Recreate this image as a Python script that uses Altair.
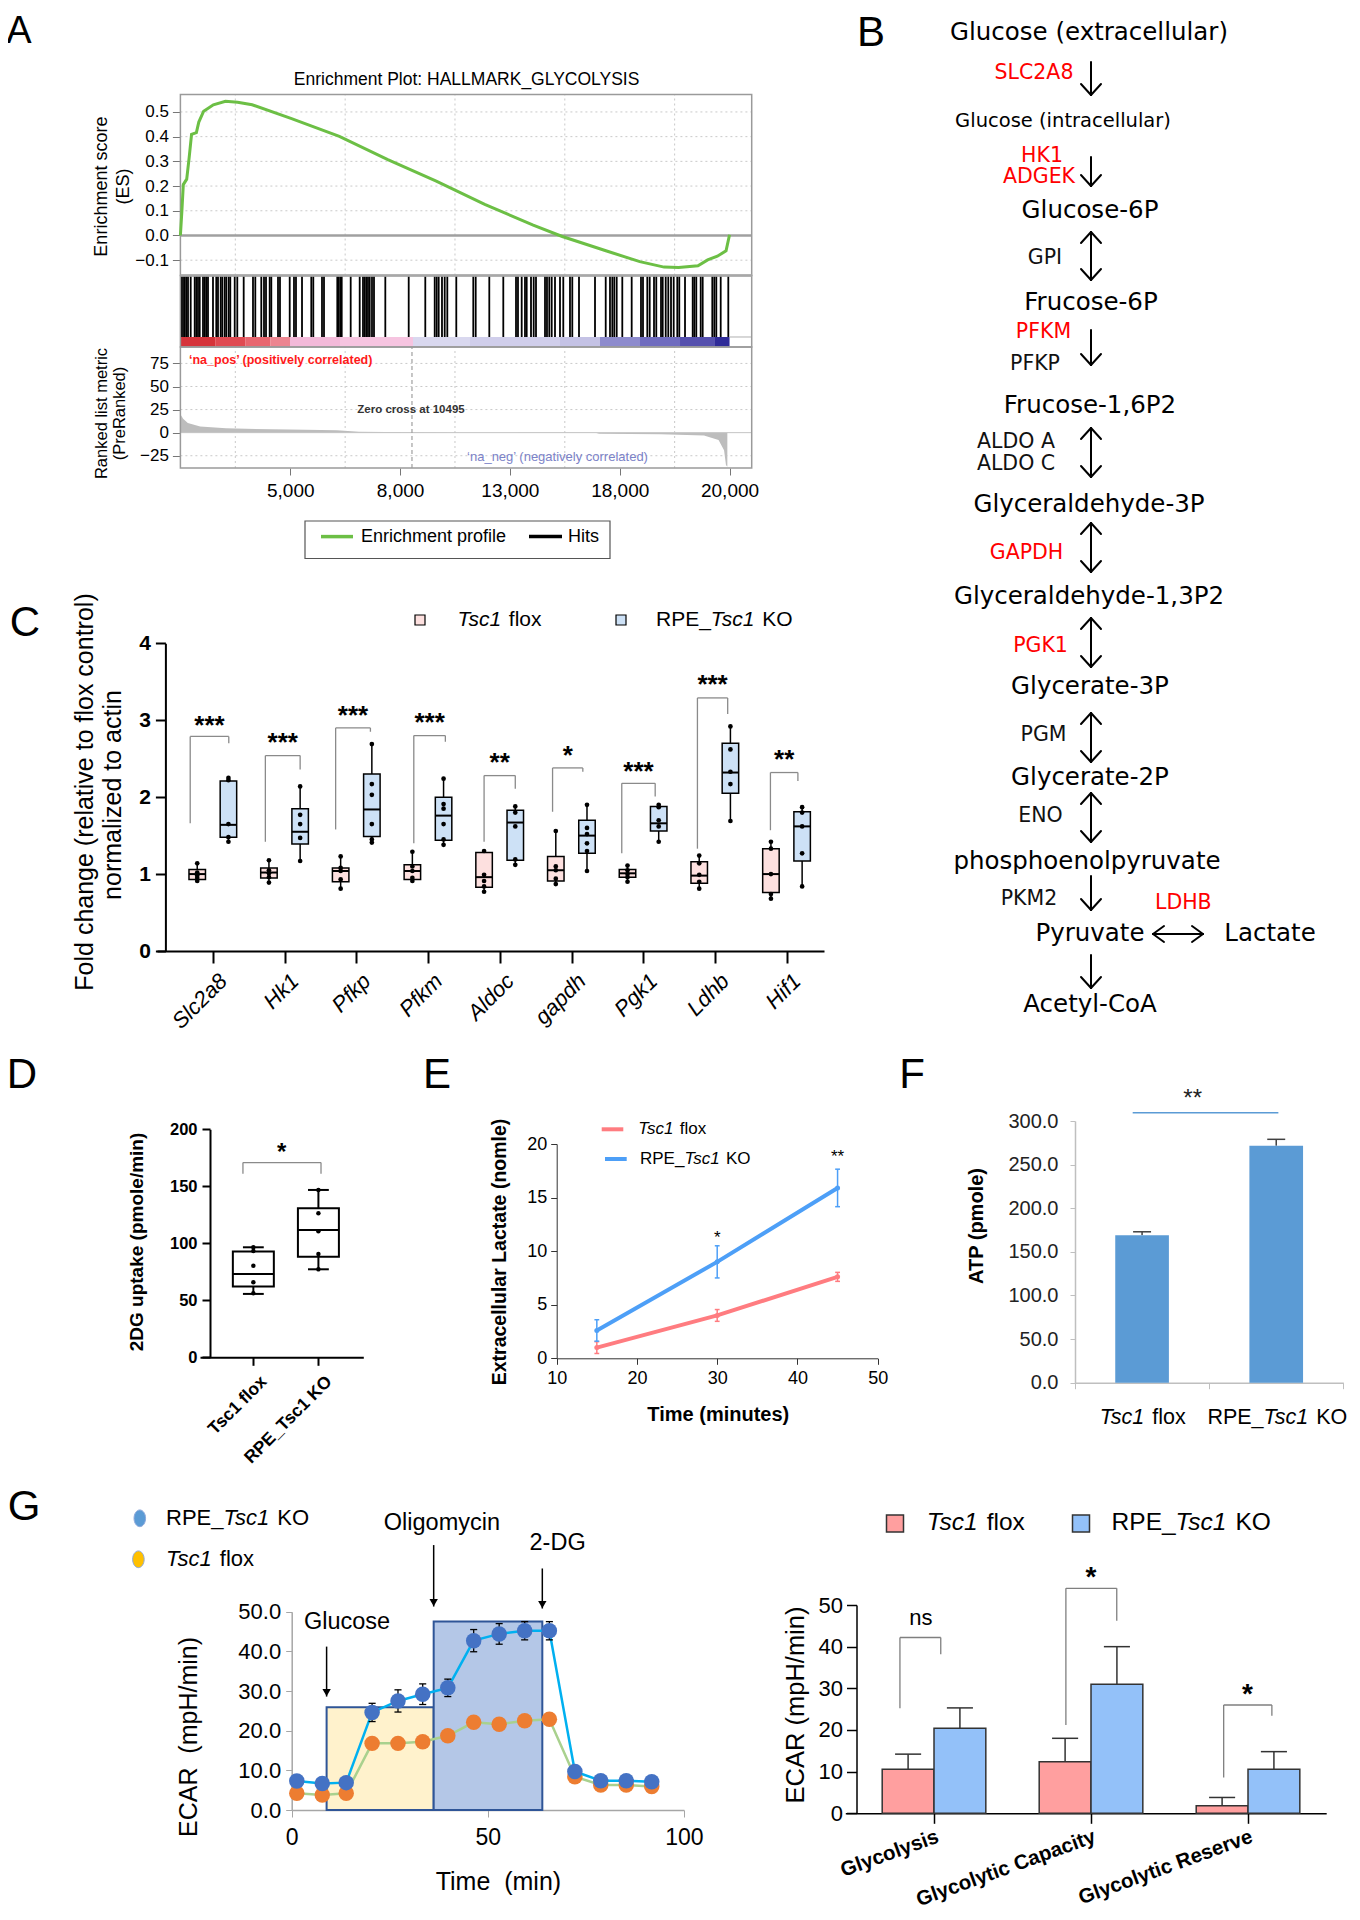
import json
import altair as alt
import pandas as pd

# ============================== DATA ==============================
# ---- A : GSEA enrichment plot ----
es_rank = [0, 53, 106, 230, 318, 406, 582, 670, 847, 1200, 1642, 2083, 2612, 4024, 5789,
           7554, 9319, 11084, 12849, 13908, 15497, 16732, 17615, 18144, 18850, 19203,
           19556, 19873, 20000]
es_score = [0.0, 0.097, 0.206, 0.228, 0.314, 0.409, 0.416, 0.459, 0.503, 0.529, 0.543,
            0.539, 0.529, 0.474, 0.401, 0.307, 0.220, 0.126, 0.042, -0.004, -0.062,
            -0.106, -0.128, -0.130, -0.123, -0.099, -0.084, -0.062, 0.003]
hit_rank = [33, 95, 157, 215, 277, 375, 521, 579, 641, 703, 823, 885, 943, 1005, 1187,
            1307, 1369, 1468, 1526, 1613, 1672, 1759, 1817, 1978, 2072, 2305, 2644, 2728,
            2946, 3045, 3118, 3252, 3311, 3555, 3627, 3981, 4137, 4210, 4429, 4767, 4840,
            5157, 5230, 5714, 5765, 5824, 5875, 6202, 6530, 6650, 6712, 6771, 6832, 6894,
            6978, 7051, 7463, 8315, 8919, 9262, 9335, 9407, 9527, 9626, 9721, 10048,
            10667, 10755, 11250, 11760, 12223, 12295, 12430, 12550, 12612, 12769, 12867,
            12951, 13279, 13351, 13435, 13523, 13643, 13825, 13945, 14189, 14273, 14517,
            15100, 15490, 15646, 15730, 15803, 15890, 16094, 16436, 16775, 16848, 17005,
            17092, 17249, 17332, 17504, 17566, 17675, 17769, 17868, 17966, 18097, 18170,
            18378, 18658, 18717, 18789, 18949, 19022, 19372, 19445, 19518, 19678, 19955]
metric_rank = [0, 100, 270, 720, 1660, 3960, 5700, 6500, 8440, 10495, 13000, 15150, 15250,
               17500, 19070, 19600, 19800, 19870, 19920]
metric_value = [20, 15, 10.5, 6.8, 4.7, 3.3, 2.5, 1.0, 0.4, 0.0, -0.3, -0.5, -1.2, -1.6,
                -3.0, -8.0, -19.0, -35.0, -37.0]
band_edges = [0, 1267, 2360, 3270, 3992, 5813, 8472, 10547, 13825, 15282, 16739, 18196, 19470, 20000]
band_colors = ['#d6333a', '#e04a52', '#e8666f', '#ec8590', '#f3b9d9', '#f6c4e0', '#d9d8ef',
               '#d0ceeb', '#c4c2e5', '#8d8bcd', '#6f6cbf', '#5550ae', '#2f2b98']
a_grid_rank = [2000, 6000, 10000, 14000, 18000]
a_grid_es = [-0.1, 0.1, 0.2, 0.3, 0.4, 0.5]
a_grid_metric = [-25, 25, 50, 75]
a_es_ticks = [-0.1, 0.0, 0.1, 0.2, 0.3, 0.4, 0.5]
a_metric_ticks = [-25, 0, 25, 50, 75]
a_tick_rank = [4000, 8000, 12000, 16000, 20000]
a_tick_label = ['5,000', '8,000', '13,000', '18,000', '20,000']
zero_cross_rank = 8434

# ---- B : glycolysis pathway (layout units of the diagram) ----
b_metabolites = ['Glucose (extracellular)', 'Glucose (intracellular)', 'Glucose-6P', 'Frucose-6P',
                 'Frucose-1,6P2', 'Glyceraldehyde-3P', 'Glyceraldehyde-1,3P2', 'Glycerate-3P',
                 'Glycerate-2P', 'phosphoenolpyruvate', 'Pyruvate', 'Lactate', 'Acetyl-CoA']
b_met_x = [229, 203, 230, 231, 230, 229, 229, 230, 230, 227, 230, 410, 230]
b_met_y = [32.7, 121, 211, 303, 405.5, 505, 597, 686.7, 778, 862, 934, 934, 1005]
b_enzymes = ['SLC2A8', 'HK1', 'ADGEK', 'GPI', 'PFKM', 'PFKP', 'ALDO A', 'ALDO C', 'GAPDH',
             'PGK1', 'PGM', 'ENO', 'PKM2', 'LDHB']
b_enz_x = [174, 182, 179, 185, 183.5, 175, 156, 156, 166.5, 180.5, 183.5, 180.5, 169, 323.3]
b_enz_y = [73, 155.6, 176.6, 258, 331.6, 364, 441.5, 464, 552.6, 645.5, 734.5, 816, 899, 902.5]
b_enz_red = [1, 1, 1, 0, 1, 0, 0, 0, 1, 1, 0, 0, 0, 1]
b_arrow_kind = ['down', 'down', 'both', 'down', 'both', 'both', 'both', 'both', 'both', 'down', 'down']
b_arrow_top = [62, 157, 232, 330, 428, 523, 618, 713, 793, 876, 955]
b_arrow_bottom = [95, 186, 280, 365, 477, 572, 667, 762, 842, 910, 988]

# ---- C : qPCR box plots ----
genes = ['Slc2a8', 'Hk1', 'Pfkp', 'Pfkm', 'Aldoc', 'gapdh', 'Pgk1', 'Ldhb', 'Hif1']
flox_min = [0.91, 0.89, 0.81, 0.91, 0.77, 0.87, 0.90, 0.81, 0.68]
flox_q1 = [0.93, 0.95, 0.90, 0.93, 0.83, 0.91, 0.96, 0.88, 0.76]
flox_med = [1.00, 1.02, 1.04, 1.04, 0.96, 1.05, 1.01, 0.98, 1.00]
flox_q3 = [1.06, 1.08, 1.08, 1.12, 1.28, 1.23, 1.06, 1.16, 1.33]
flox_max = [1.14, 1.18, 1.23, 1.29, 1.30, 1.56, 1.11, 1.24, 1.42]
ko_min = [1.40, 1.17, 1.41, 1.37, 1.12, 1.04, 1.42, 1.69, 0.84]
ko_q1 = [1.48, 1.39, 1.49, 1.44, 1.18, 1.27, 1.56, 2.05, 1.17]
ko_med = [1.64, 1.55, 1.84, 1.76, 1.67, 1.50, 1.66, 2.32, 1.62]
ko_q3 = [2.21, 1.85, 2.30, 2.00, 1.83, 1.70, 1.88, 2.70, 1.81]
ko_max = [2.25, 2.15, 2.70, 2.24, 1.89, 1.91, 1.91, 2.93, 1.89]
flox_points = [[1.14, 1.02, 0.98, 0.95, 0.91], [1.18, 1.05, 1.01, 0.96, 0.89],
               [1.23, 1.08, 1.04, 0.93, 0.81], [1.29, 1.10, 1.04, 0.95, 0.91],
               [1.30, 0.99, 0.91, 0.84, 0.77], [1.56, 1.10, 1.05, 0.94, 0.87],
               [1.11, 1.05, 1.00, 0.96, 0.90], [1.24, 1.14, 0.99, 0.90, 0.81],
               [1.42, 1.33, 1.00, 0.74, 0.68]]
ko_points = [[2.25, 2.22, 1.65, 1.48, 1.42], [2.14, 1.77, 1.65, 1.47, 1.17],
             [2.69, 2.17, 2.03, 1.65, 1.45, 1.41], [2.24, 1.91, 1.85, 1.65, 1.45, 1.38],
             [1.88, 1.80, 1.62, 1.19, 1.12], [1.90, 1.60, 1.52, 1.40, 1.30, 1.04],
             [1.90, 1.87, 1.70, 1.62, 1.42], [2.92, 2.62, 2.33, 2.17, 1.69],
             [1.87, 1.80, 1.62, 1.27, 0.84]]
c_br_left = [-0.318, -0.27, -0.29, -0.2, -0.22, -0.265, -0.3, -0.245, -0.227]
c_br_right = [0.22, 0.215, 0.195, 0.24, 0.215, 0.157, 0.166, 0.177, 0.156]
c_br_left_low = [1.66, 1.42, 1.58, 1.40, 1.42, 1.81, 1.27, 1.33, 1.57]
c_br_top = [2.79, 2.54, 2.90, 2.80, 2.28, 2.38, 2.18, 3.29, 2.32]
c_br_right_low = [2.70, 2.36, 2.85, 2.72, 2.11, 2.33, 2.01, 3.08, 2.21]
c_sig = ['***', '***', '***', '***', '**', '*', '***', '***', '**']
c_sig_y = [3.02, 2.79, 3.15, 3.05, 2.53, 2.63, 2.42, 3.55, 2.57]

# ---- D : 2DG uptake ----
d_groups = ['Tsc1 flox', 'RPE_Tsc1 KO']
d_min = [55.6, 77.2]
d_q1 = [62.0, 88.3]
d_med = [73.0, 111.7]
d_q3 = [92.7, 130.7]
d_max = [96.5, 146.8]
d_points = [[96.5, 93.3, 80.4, 65.8, 56.1], [146.8, 126.3, 110.5, 90.6, 77.2]]

# ---- E : extracellular lactate ----
e_time = [15, 30, 45]
e_flox = [1.0, 4.0, 7.6]
e_flox_err = [0.55, 0.55, 0.42]
e_ko = [2.6, 9.0, 15.9]
e_ko_err = [1.0, 1.5, 1.75]
e_sig = ['*', '**']
e_sig_time = [30, 45]
e_sig_y = [11.7, 19.3]

# ---- F : ATP ----
f_groups = ['Tsc1 flox', 'RPE_Tsc1 KO']
f_value = [168.9, 271.7]
f_err = [4.1, 7.3]

# ---- G : Seahorse ECAR ----
g_time = [1.3, 7.8, 13.9, 20.5, 27.1, 33.4, 39.8, 46.4, 52.9, 59.4, 65.7, 72.2, 78.8, 85.3, 91.8]
g_ko = [7.3, 6.7, 6.9, 24.6, 27.5, 29.2, 30.8, 42.7, 44.4, 45.2, 45.2, 9.7, 7.4, 7.4, 7.1]
g_ko_err = [0.5, 0.5, 0.5, 2.3, 2.8, 2.6, 2.2, 2.8, 2.6, 2.3, 2.3, 0.6, 0.5, 0.5, 0.5]
g_flox = [4.2, 3.8, 4.2, 16.8, 16.8, 17.2, 18.7, 22.1, 21.6, 22.5, 22.9, 8.4, 6.3, 6.3, 5.9]
g_phase_start = [8.9, 36.2]
g_phase_end = [36.2, 63.9]
g_phase_top = [25.9, 47.5]
g_inject = ['Glucose', 'Oligomycin', '2-DG']
g_inject_time = [8.9, 36.2, 63.9]
g_arrow_top = [41.2, 66.8, 60.9]
g_arrow_tip = [28.6, 51.3, 50.8]
g_label_time = [14.1, 38.3, 67.8]
g_label_y = [47.5, 72.3, 67.2]
gr_cats = ['Glycolysis', 'Glycolytic Capacity', 'Glycolytic Reserve']
gr_flox = [10.6, 12.4, 1.8]
gr_flox_err = [3.6, 5.6, 2.0]
gr_ko = [20.4, 31.0, 10.6]
gr_ko_err = [4.9, 9.0, 4.2]
gr_br_left = [-0.217, 0.84, 1.845]
gr_br_right = [0.043, 1.164, 2.152]
gr_br_left_low = [25.2, 21.2, 8.6]
gr_br_top = [42.2, 54.0, 26.0]
gr_br_right_low = [38.2, 46.2, 23.4]
gr_sig = ['ns', '*', '*']
gr_sig_x = [-0.084, 1.0, 1.997]
gr_sig_y = [46.8, 58.4, 30.4]

# ============================== LAYOUT HELPERS ==============================
W, H = 1344, 1904
SANS = 'Liberation Sans'
DJV = 'DejaVu Sans'


def V(v):
    return v - 8.0


AW = {' ': 278, '_': 556, '1': 556, 'E': 667, 'K': 667, 'O': 778, 'P': 667, 'R': 722,
      'T': 611, 'c': 500, 'f': 278, 'l': 222, 'o': 556, 's': 500, 'x': 500}


def tw(s, size):
    return sum(AW.get(ch, 556) for ch in s) * size / 1000.0


class Panel:
    def __init__(self, xdom, xr, ydom, yr):
        self.xdom, self.xr, self.ydom, self.yr = list(xdom), xr, list(ydom), yr

    def X(self, f, axis=None):
        return alt.X(f + ':Q', axis=axis,
                     scale=alt.Scale(domain=self.xdom, range=[V(self.xr[0]), V(self.xr[1])],
                                     nice=False, zero=False, padding=0))

    def Y(self, f, axis=None):
        return alt.Y(f + ':Q', axis=axis,
                     scale=alt.Scale(domain=self.ydom, range=[V(self.yr[0]), V(self.yr[1])],
                                     nice=False, zero=False, padding=0))


def axis_left(x_full, values, **kw):
    d = dict(orient='left', offset=-V(x_full), values=values, grid=False, title=None,
             labelFlush=False, labelOverlap=False, labelFont=SANS, labelColor='black',
             domainColor='black', tickColor='black', labelLimit=400)
    d.update(kw)
    return alt.Axis(**d)


def axis_bottom(y_full, values, **kw):
    d = dict(orient='bottom', offset=V(y_full) - H, values=values, grid=False, title=None,
             labelFlush=False, labelOverlap=False, labelFont=SANS, labelColor='black',
             domainColor='black', tickColor='black', labelLimit=400)
    d.update(kw)
    return alt.Axis(**d)


def vr(P, df, x, y0, y1, **mk):
    return alt.Chart(df).mark_rule(**mk).encode(x=P.X(x), y=P.Y(y0), y2=alt.Y2(y1))


def hr(P, df, x0, x1, y, **mk):
    return alt.Chart(df).mark_rule(**mk).encode(x=P.X(x0), x2=alt.X2(x1), y=P.Y(y))


def rc(P, df, x0, x1, y0, y1, **mk):
    return alt.Chart(df).mark_rect(**mk).encode(x=P.X(x0), x2=alt.X2(x1), y=P.Y(y0), y2=alt.Y2(y1))


def ptext(rows, size, font=SANS, **mk):
    df = pd.DataFrame([(V(x), V(y), t) for x, y, t in rows], columns=['x', 'y', 't'])
    props = dict(font=font, fontSize=size, align='center', baseline='middle', color='black')
    props.update(mk)
    return alt.Chart(df).mark_text(**props).encode(
        x=alt.X('x:Q', scale=None, axis=None), y=alt.Y('y:Q', scale=None, axis=None), text='t:N')


def prule(rows, **mk):
    df = pd.DataFrame([(V(a), V(b), V(c), V(d)) for a, b, c, d in rows], columns=['x0', 'y0', 'x1', 'y1'])
    return alt.Chart(df).mark_rule(**mk).encode(
        x=alt.X('x0:Q', scale=None, axis=None), y=alt.Y('y0:Q', scale=None, axis=None),
        x2=alt.X2('x1'), y2=alt.Y2('y1'))


def prect(rows, **mk):
    df = pd.DataFrame([(V(a), V(b), V(c), V(d)) for a, b, c, d in rows], columns=['x0', 'y0', 'x1', 'y1'])
    return alt.Chart(df).mark_rect(**mk).encode(
        x=alt.X('x0:Q', scale=None, axis=None), y=alt.Y('y0:Q', scale=None, axis=None),
        x2=alt.X2('x1'), y2=alt.Y2('y1'))


def ppoint(rows, **mk):
    df = pd.DataFrame([(V(x), V(y)) for x, y in rows], columns=['x', 'y'])
    return alt.Chart(df).mark_point(**mk).encode(
        x=alt.X('x:Q', scale=None, axis=None), y=alt.Y('y:Q', scale=None, axis=None))


mixed_rows = {}


def mixed(parts, x, y, size, anchor='left', color='black'):
    total = sum(tw(p, size) for p, _ in parts)
    cx = x if anchor == 'left' else x - total / 2.0
    for p, it in parts:
        lead = len(p) - len(p.lstrip(' '))
        mixed_rows.setdefault((size, it, color), []).append((cx + tw(' ' * lead, size), y, p.strip(' ')))
        cx += tw(p, size)


FLOX_TXT = [('Tsc1', True), (' flox', False)]
KO_TXT = [('RPE_', False), ('Tsc1', True), (' KO', False)]

L = []

# ============================== PANEL A ==============================
AX = [0, 20807]
PA_es = Panel(AX, (180.4, 751.7), [-0.162, 0.571], (275.5, 94.4))
PA_hit = Panel(AX, (180.4, 751.7), [0, 1], (347.0, 275.5))
PA_rk = Panel(AX, (180.4, 751.7), [-38.3, 92.8], (468.0, 347.0))
GRID = dict(color='#c9c9c9', strokeWidth=1, strokeDash=[2, 3])

g = pd.DataFrame({'x': a_grid_rank}); g['a'] = -0.162; g['b'] = 0.571
L.append(vr(PA_es, g, 'x', 'a', 'b', **GRID))
g = pd.DataFrame({'x': a_grid_rank}); g['a'] = -38.3; g['b'] = 92.8
L.append(vr(PA_rk, g, 'x', 'a', 'b', **GRID))
g = pd.DataFrame({'y': a_grid_es}); g['a'] = 0; g['b'] = AX[1]
L.append(hr(PA_es, g, 'a', 'b', 'y', **GRID))
g = pd.DataFrame({'y': a_grid_metric}); g['a'] = 0; g['b'] = AX[1]
L.append(hr(PA_rk, g, 'a', 'b', 'y', **GRID))
g = pd.DataFrame({'y': [0.0], 'a': [0], 'b': [AX[1]]})
L.append(hr(PA_es, g, 'a', 'b', 'y', color='#a0a0a0', strokeWidth=2.5))

mt = pd.DataFrame({'rank': metric_rank, 'v': metric_value}); mt['z'] = 0.0
L.append(alt.Chart(mt).mark_area(color='#bdbdbd').encode(
    x=PA_rk.X('rank'),
    y=PA_rk.Y('v', axis=axis_left(180.4, a_metric_ticks, labelFontSize=17, tickSize=8,
                                  labelPadding=4, domain=False, tickColor='#777')),
    y2=alt.Y2('z')))
g = pd.DataFrame({'y': [0.0], 'a': [0], 'b': [AX[1]]})
L.append(hr(PA_rk, g, 'a', 'b', 'y', color='#c4c4c4', strokeWidth=1))
g = pd.DataFrame({'x': [zero_cross_rank], 'a': [-38.3], 'b': [92.8]})
L.append(vr(PA_rk, g, 'x', 'a', 'b', color='#a0a0a0', strokeWidth=1.2, strokeDash=[4, 3]))

hits = pd.DataFrame({'rank': hit_rank}); hits['a'] = 0.14; hits['b'] = 1.0
L.append(vr(PA_hit, hits, 'rank', 'a', 'b', color='black', strokeWidth=1.8))
band = pd.DataFrame({'x0': band_edges[:-1], 'x1': band_edges[1:], 'c': band_colors})
band['y0'] = 0.0; band['y1'] = 0.14
L.append(alt.Chart(band).mark_rect().encode(
    x=PA_hit.X('x0'), x2=alt.X2('x1'), y=PA_hit.Y('y0'), y2=alt.Y2('y1'),
    color=alt.Color('c:N', scale=None)))
g = pd.DataFrame({'a': [20000], 'b': [AX[1]], 'y': [0.14]})
L.append(hr(PA_hit, g, 'a', 'b', 'y', color='#b0b0b0', strokeWidth=1))
for P, lo, hi in [(PA_es, -0.162, 0.571), (PA_hit, 0, 1), (PA_rk, -38.3, 92.8)]:
    fr = pd.DataFrame({'x0': [0], 'x1': [AX[1]], 'y0': [lo], 'y1': [hi]})
    L.append(rc(P, fr, 'x0', 'x1', 'y0', 'y1', filled=False, color='#9a9a9a', strokeWidth=1.5))
g = pd.DataFrame({'y': [-0.162], 'a': [0], 'b': [AX[1]]})
L.append(hr(PA_es, g, 'a', 'b', 'y', color='#a8a8a8', strokeWidth=2.5))

a_label_expr = json.dumps(a_tick_label) + '[indexof(' + json.dumps(a_tick_rank) + ', datum.value)]'
es_df = pd.DataFrame({'rank': es_rank, 'es': es_score})
L.append(alt.Chart(es_df).mark_line(color='#6cbf45', strokeWidth=3).encode(
    x=PA_es.X('rank', axis=axis_bottom(468, a_tick_rank, labelExpr=a_label_expr, labelFontSize=19,
                                       tickSize=7, labelPadding=6, domain=False, tickColor='#777')),
    y=PA_es.Y('es', axis=axis_left(180.4, a_es_ticks, format='.1f', labelFontSize=17, tickSize=8,
                                   labelPadding=4, domain=False, tickColor='#777'))))

L.append(ptext([(466.6, 79.7, 'Enrichment Plot: HALLMARK_GLYCOLYSIS')], 17.5))
L.append(ptext([(101.8, 186.6, 'Enrichment score'), (123.6, 186.6, '(ES)')], 18, angle=270))
L.append(ptext([(101.8, 413.5, 'Ranked list metric'), (119.5, 413.5, '(PreRanked)')], 16.5, angle=270))
L.append(ptext([(189, 360, '\u2018na_pos\u2019 (positively correlated)')], 12.5, align='left',
               fontWeight='bold', color='#ff1a1a'))
L.append(ptext([(411, 410, 'Zero cross at 10495')], 11.5, fontWeight='bold', color='#333333'))
L.append(ptext([(557.5, 457, '\u2018na_neg\u2019 (negatively correlated)')], 13, color='#7b82c8'))
L.append(prect([(305, 521, 610, 558.5)], filled=False, color='#555555', strokeWidth=1.2))
L.append(prule([(321, 536.6, 353, 536.6)], color='#6cbf45', strokeWidth=3.5))
L.append(prule([(529, 536.6, 562, 536.6)], color='black', strokeWidth=3.5))
L.append(ptext([(361, 536.6, 'Enrichment profile'), (568, 536.6, 'Hits')], 18, align='left'))

# ============================== PANEL B ==============================
PB = Panel([0, 500], (860, 1360), [0, 1020], (0, 1020))
mets = pd.DataFrame({'x': b_met_x, 'y': b_met_y, 't': b_metabolites})
mets['s'] = [19.5 if 'intra' in t else 24.5 for t in b_metabolites]
for s in sorted(set(mets['s'])):
    sub = mets[mets['s'] == s]
    L.append(alt.Chart(sub).mark_text(font=DJV, fontSize=s, align='center', baseline='middle',
                                      color='black').encode(x=PB.X('x'), y=PB.Y('y'), text='t:N'))
enz = pd.DataFrame({'x': b_enz_x, 'y': b_enz_y, 't': b_enzymes,
                    'c': ['#ff0000' if r else '#111111' for r in b_enz_red]})
L.append(alt.Chart(enz).mark_text(font=DJV, fontSize=20.5, align='center', baseline='middle').encode(
    x=PB.X('x'), y=PB.Y('y'), text='t:N', color=alt.Color('c:N', scale=None)))
segs = []
AXB = 231
for kind, yt, yb in zip(b_arrow_kind, b_arrow_top, b_arrow_bottom):
    segs.append((AXB, yt, AXB, yb))
    segs.append((AXB - 10, yb - 11, AXB, yb))
    segs.append((AXB + 10, yb - 11, AXB, yb))
    if kind == 'both':
        segs.append((AXB - 10, yt + 11, AXB, yt))
        segs.append((AXB + 10, yt + 11, AXB, yt))
hx0, hx1, hy = 293, 343, 934
segs += [(hx0, hy, hx1, hy), (hx0 + 11, hy - 8, hx0, hy), (hx0 + 11, hy + 8, hx0, hy),
         (hx1 - 11, hy - 8, hx1, hy), (hx1 - 11, hy + 8, hx1, hy)]
sg = pd.DataFrame(segs, columns=['x0', 'y0', 'x1', 'y1'])
L.append(alt.Chart(sg).mark_rule(color='black', strokeWidth=2, strokeCap='round').encode(
    x=PB.X('x0'), x2=alt.X2('x1'), y=PB.Y('y0'), y2=alt.Y2('y1')))

# ============================== PANEL C ==============================
PC = Panel([-0.781, 8.52], (157.0, 824.0), [0, 4], (951.0, 643.3))
rows, pts = [], []
for i in range(len(genes)):
    for off, st, fill, plist in [(-0.22, (flox_min, flox_q1, flox_med, flox_q3, flox_max), '#fde0df', flox_points),
                                 (0.215, (ko_min, ko_q1, ko_med, ko_q3, ko_max), '#cde1f6', ko_points)]:
        c = i + off
        rows.append(dict(c=c, x0=c - 0.115, x1=c + 0.115, lo=st[0][i], q1=st[1][i], med=st[2][i],
                         q3=st[3][i], hi=st[4][i], fill=fill))
        for v in plist[i]:
            pts.append(dict(c=c, v=v))
box = pd.DataFrame(rows)
ptsdf = pd.DataFrame(pts)
L.append(vr(PC, box, 'c', 'lo', 'q1', color='black', strokeWidth=1.5))
L.append(vr(PC, box, 'c', 'q3', 'hi', color='black', strokeWidth=1.5))
L.append(alt.Chart(box).mark_rect(stroke='black', strokeWidth=1.5).encode(
    x=PC.X('x0', axis=axis_bottom(951, list(range(len(genes))),
                                  labelExpr=json.dumps(genes) + '[datum.value]', labelAngle=-45,
                                  labelAlign='right', labelBaseline='top', labelFontStyle='italic',
                                  labelFontSize=22, tickSize=12, tickWidth=2, domainWidth=2,
                                  labelOffset=3, labelPadding=7)),
    x2=alt.X2('x1'),
    y=PC.Y('q1', axis=axis_left(165.4, [0, 1, 2, 3, 4], labelFontSize=21, labelFontWeight='bold',
                                tickSize=10, tickWidth=2, domainWidth=2, labelPadding=5)),
    y2=alt.Y2('q3'), fill=alt.Fill('fill:N', scale=None)))
L.append(hr(PC, box, 'x0', 'x1', 'med', color='black', strokeWidth=2))
L.append(alt.Chart(ptsdf).mark_circle(size=22, color='black', opacity=1).encode(x=PC.X('c'), y=PC.Y('v')))
br = pd.DataFrame({'l': [i + v for i, v in enumerate(c_br_left)],
                   'r': [i + v for i, v in enumerate(c_br_right)],
                   'll': c_br_left_low, 'top': c_br_top, 'rl': c_br_right_low,
                   's': c_sig, 'sy': c_sig_y})
br['m'] = (br['l'] + br['r']) / 2
BRK = dict(color='#8a8a8a', strokeWidth=1.3)
L.append(vr(PC, br, 'l', 'll', 'top', **BRK))
L.append(vr(PC, br, 'r', 'rl', 'top', **BRK))
L.append(hr(PC, br, 'l', 'r', 'top', **BRK))
L.append(alt.Chart(br).mark_text(font=SANS, fontSize=26, fontWeight='bold', baseline='middle',
                                 dy=7).encode(x=PC.X('m'), y=PC.Y('sy'), text='s:N'))
L.append(ptext([(85.4, 792, 'Fold change (relative to flox control)'),
                (113, 795, 'normalized to actin')], 25, angle=270))
L.append(prect([(415, 615, 425, 625)], fill='#fde0df', stroke='black', strokeWidth=1.2))
L.append(prect([(616, 615, 626, 625)], fill='#cde1f6', stroke='black', strokeWidth=1.2))
mixed(FLOX_TXT, 457.5, 620, 21)
mixed(KO_TXT, 656, 620, 21)

# ============================== PANEL D ==============================
PD = Panel([-0.82, 1.69], (200.0, 363.3), [0, 200], (1357.3, 1129.3))
dbox = pd.DataFrame({'c': [0, 1], 'lo': d_min, 'q1': d_q1, 'med': d_med, 'q3': d_q3, 'hi': d_max})
dbox['x0'] = dbox['c'] - 0.315; dbox['x1'] = dbox['c'] + 0.315
dbox['k0'] = dbox['c'] - 0.16; dbox['k1'] = dbox['c'] + 0.16
L.append(vr(PD, dbox, 'c', 'lo', 'q1', color='black', strokeWidth=2))
L.append(vr(PD, dbox, 'c', 'q3', 'hi', color='black', strokeWidth=2))
L.append(hr(PD, dbox, 'k0', 'k1', 'lo', color='black', strokeWidth=2))
L.append(hr(PD, dbox, 'k0', 'k1', 'hi', color='black', strokeWidth=2))
L.append(alt.Chart(dbox).mark_rect(fill='white', stroke='black', strokeWidth=2).encode(
    x=PD.X('x0', axis=axis_bottom(1357.3, [0, 1], labelExpr=json.dumps(d_groups) + '[datum.value]',
                                  labelAngle=-45, labelAlign='right', labelBaseline='top',
                                  labelFontSize=17.5, labelFontWeight='bold', tickSize=8, tickWidth=2,
                                  domainWidth=2, labelPadding=7, labelOffset=4)),
    x2=alt.X2('x1'),
    y=PD.Y('q1', axis=axis_left(210, [0, 50, 100, 150, 200], labelFontSize=16.5, labelFontWeight='bold',
                                tickSize=8, tickWidth=2, domainWidth=2, labelPadding=5)),
    y2=alt.Y2('q3')))
L.append(hr(PD, dbox, 'x0', 'x1', 'med', color='black', strokeWidth=2))
dp = pd.DataFrame([dict(c=i, v=v) for i, pl in enumerate(d_points) for v in pl])
L.append(alt.Chart(dp).mark_circle(size=20, color='black', opacity=1).encode(x=PD.X('c'), y=PD.Y('v')))
dbr = pd.DataFrame({'l': [-0.16], 'r': [1.04], 'low': [161.0], 'top': [170.8], 'm': [0.437],
                    'sy': [185.0], 's': ['*']})
L.append(vr(PD, dbr, 'l', 'low', 'top', **BRK))
L.append(vr(PD, dbr, 'r', 'low', 'top', **BRK))
L.append(hr(PD, dbr, 'l', 'r', 'top', **BRK))
L.append(alt.Chart(dbr).mark_text(font=SANS, fontSize=24, fontWeight='bold', baseline='middle',
                                  dy=7).encode(x=PD.X('m'), y=PD.Y('sy'), text='s:N'))
L.append(ptext([(136.7, 1242, '2DG uptake (pmole/min)')], 19, angle=270, fontWeight='bold'))

# ============================== PANEL E ==============================
PE = Panel([10, 50], (556.7, 877.7), [0, 20], (1358.3, 1144.0))
first = True
for vals, errs, col in [(e_flox, e_flox_err, '#ff7c80'), (e_ko, e_ko_err, '#4d9ff7')]:
    ed = pd.DataFrame({'t': e_time, 'v': vals, 'e': errs})
    ed['lo'] = ed['v'] - ed['e']; ed['hi'] = ed['v'] + ed['e']
    ed['c0'] = ed['t'] - 0.3; ed['c1'] = ed['t'] + 0.3
    L.append(vr(PE, ed, 't', 'lo', 'hi', color=col, strokeWidth=1.5))
    L.append(hr(PE, ed, 'c0', 'c1', 'lo', color=col, strokeWidth=1.5))
    L.append(hr(PE, ed, 'c0', 'c1', 'hi', color=col, strokeWidth=1.5))
    if first:
        enc = dict(x=PE.X('t', axis=axis_bottom(1358.3, [10, 20, 30, 40, 50], labelFontSize=18,
                                                 tickSize=6, labelPadding=5, domainColor='#333',
                                                 tickColor='#333')),
                   y=PE.Y('v', axis=axis_left(556.7, [0, 5, 10, 15, 20], labelFontSize=18,
                                              tickSize=6, labelPadding=4, domainColor='#333',
                                              tickColor='#333')))
        first = False
    else:
        enc = dict(x=PE.X('t'), y=PE.Y('v'))
    L.append(alt.Chart(ed).mark_line(color=col, strokeWidth=4).encode(**enc))
    L.append(alt.Chart(ed).mark_circle(color=col, size=25, opacity=1).encode(x=PE.X('t'), y=PE.Y('v')))
es_ = pd.DataFrame({'t': e_sig_time, 'y': e_sig_y, 's': e_sig})
L.append(alt.Chart(es_).mark_text(font=SANS, fontSize=17, baseline='middle', dy=5).encode(
    x=PE.X('t'), y=PE.Y('y'), text='s:N'))
L.append(prule([(601.7, 1129.3, 623.3, 1129.3)], color='#ff7c80', strokeWidth=4))
L.append(prule([(605, 1159, 626.7, 1159)], color='#4d9ff7', strokeWidth=4))
mixed(FLOX_TXT, 638.3, 1129.3, 17)
mixed(KO_TXT, 640, 1159, 17)
L.append(ptext([(500, 1252, 'Extracellular Lactate (nomle)')], 19.5, angle=270, fontWeight='bold'))
L.append(ptext([(718.3, 1415, 'Time (minutes)')], 20, fontWeight='bold'))

# ============================== PANEL F ==============================
PF = Panel([-0.5, 1.5], (1075.0, 1343.3), [0, 300], (1382.7, 1121.0))
fd = pd.DataFrame({'c': [0, 1], 'v': f_value, 'e': f_err})
fd['x0'] = fd['c'] - 0.2; fd['x1'] = fd['c'] + 0.2; fd['z'] = 0.0
fd['hi'] = fd['v'] + fd['e']; fd['k0'] = fd['c'] - 0.067; fd['k1'] = fd['c'] + 0.067
L.append(vr(PF, fd, 'c', 'v', 'hi', color='#404040', strokeWidth=1.5))
L.append(hr(PF, fd, 'k0', 'k1', 'hi', color='#404040', strokeWidth=1.5))
L.append(alt.Chart(fd).mark_rect(color='#5b9bd5').encode(
    x=PF.X('x0', axis=axis_bottom(1382.7, [-0.5, 0.5, 1.5], labels=False, tickSize=6,
                                  domainColor='#bfbfbf', tickColor='#bfbfbf', domainWidth=1.5)),
    x2=alt.X2('x1'),
    y=PF.Y('z', axis=axis_left(1075, [0, 50, 100, 150, 200, 250, 300], format='.1f', labelFontSize=20,
                               tickSize=5, labelPadding=12, domainColor='#bfbfbf', tickColor='#bfbfbf',
                               labelColor='#222222', domainWidth=1.5)),
    y2=alt.Y2('v')))
fs = pd.DataFrame({'a': [-0.07], 'b': [1.016], 'y': [309.5], 'm': [0.377], 'sy': [333.6], 's': ['**']})
L.append(hr(PF, fs, 'a', 'b', 'y', color='#5b9bd5', strokeWidth=1.5))
L.append(alt.Chart(fs).mark_text(font=SANS, fontSize=24, baseline='middle', dy=7, color='#222').encode(
    x=PF.X('m'), y=PF.Y('sy'), text='s:N'))
mixed(FLOX_TXT, 1142.7, 1418, 21.5, anchor='center')
mixed(KO_TXT, 1277.3, 1418, 21.5, anchor='center')
L.append(ptext([(976.7, 1226, 'ATP (pmole)')], 20, angle=270, fontWeight='bold'))

# ============================== PANEL G (left) ==============================
PG = Panel([0, 100], (291.7, 683.9), [0, 50], (1810.0, 1611.7))
ph = pd.DataFrame({'x0': g_phase_start, 'x1': g_phase_end, 'top': g_phase_top,
                   'c': ['#fff2cc', '#b4c7e7']}); ph['z'] = 0.0
L.append(alt.Chart(ph).mark_rect(stroke='#2f5597', strokeWidth=2).encode(
    x=PG.X('x0', axis=axis_bottom(1810, [0, 50, 100], labelFontSize=23, tickSize=7, labelPadding=9,
                                  domainColor='#a6a6a6', tickColor='#a6a6a6', domainWidth=1.5)),
    x2=alt.X2('x1'),
    y=PG.Y('z', axis=axis_left(291.7, [0, 10, 20, 30, 40, 50], format='.1f', labelFontSize=22,
                               tickSize=6, labelPadding=5, domainColor='#a6a6a6', tickColor='#a6a6a6',
                               domainWidth=1.5)),
    y2=alt.Y2('top'), fill=alt.Fill('c:N', scale=None)))
gd = pd.DataFrame({'t': g_time, 'ko': g_ko, 'e': g_ko_err, 'flox': g_flox})
gd['lo'] = gd['ko'] - gd['e']; gd['hi'] = gd['ko'] + gd['e']
gd['k0'] = gd['t'] - 0.9; gd['k1'] = gd['t'] + 0.9
L.append(alt.Chart(gd).mark_line(color='#a9d18e', strokeWidth=2.5).encode(x=PG.X('t'), y=PG.Y('flox')))
L.append(alt.Chart(gd).mark_circle(color='#ed7d31', size=240, opacity=1).encode(x=PG.X('t'), y=PG.Y('flox')))
L.append(alt.Chart(gd).mark_line(color='#00b0f0', strokeWidth=2.5).encode(x=PG.X('t'), y=PG.Y('ko')))
L.append(vr(PG, gd, 't', 'lo', 'hi', color='black', strokeWidth=1.3))
L.append(hr(PG, gd, 'k0', 'k1', 'lo', color='black', strokeWidth=1.3))
L.append(hr(PG, gd, 'k0', 'k1', 'hi', color='black', strokeWidth=1.3))
L.append(alt.Chart(gd).mark_circle(color='#4472c4', size=240, opacity=1).encode(x=PG.X('t'), y=PG.Y('ko')))
ga = pd.DataFrame({'x': g_inject_time, 'top': g_arrow_top, 'tip': g_arrow_tip})
L.append(vr(PG, ga, 'x', 'tip', 'top', color='black', strokeWidth=1.5))
L.append(alt.Chart(ga).mark_point(shape='triangle-down', filled=True, size=70, color='black',
                                  opacity=1, yOffset=-4).encode(x=PG.X('x'), y=PG.Y('tip')))
gl = pd.DataFrame({'x': g_label_time, 'y': g_label_y, 't': g_inject})
L.append(alt.Chart(gl).mark_text(font=SANS, fontSize=23.5, baseline='middle').encode(
    x=PG.X('x'), y=PG.Y('y'), text='t:N'))
ELLIPSE = 'M0,-1A0.69,1,0,1,1,0,1A0.69,1,0,1,1,0,-1Z'
L.append(ppoint([(139.8, 1518.3)], shape=ELLIPSE, size=280, filled=True, fill='#5b9bd5',
                stroke='#8faadc', strokeWidth=1, opacity=1))
L.append(ppoint([(138.4, 1559.3)], shape=ELLIPSE, size=280, filled=True, fill='#ffc000',
                stroke='#8faadc', strokeWidth=1, opacity=1))
mixed(KO_TXT, 166, 1518.3, 22)
mixed(FLOX_TXT, 166, 1559.3, 22)
L.append(ptext([(189, 1737, 'ECAR\u00a0 (mpH/min)')], 25, angle=270))
L.append(ptext([(498.4, 1881.7, 'Time\u00a0 (min)')], 25))

# ============================== PANEL G (right) ==============================
PR = Panel([-0.565, 2.498], (845.3, 1326.2), [0, 50], (1813.3, 1605.0))
rb = []
for i in range(len(gr_cats)):
    rb.append(dict(x0=i - 0.33, x1=i, c=i - 0.165, v=gr_flox[i], e=gr_flox_err[i], f='#ff9f9f'))
    rb.append(dict(x0=i, x1=i + 0.33, c=i + 0.165, v=gr_ko[i], e=gr_ko_err[i], f='#93c1f9'))
rb = pd.DataFrame(rb)
rb['z'] = 0.0; rb['hi'] = rb['v'] + rb['e']; rb['k0'] = rb['c'] - 0.083; rb['k1'] = rb['c'] + 0.083
L.append(vr(PR, rb, 'c', 'v', 'hi', color='#333333', strokeWidth=1.5))
L.append(hr(PR, rb, 'k0', 'k1', 'hi', color='#333333', strokeWidth=1.5))
L.append(alt.Chart(rb).mark_rect(stroke='#333333', strokeWidth=1.5).encode(
    x=PR.X('x0', axis=axis_bottom(1813.3, [0, 1, 2], labelExpr=json.dumps(gr_cats) + '[datum.value]',
                                  labelAngle=-20, labelAlign='right', labelBaseline='top',
                                  labelFontSize=20.5, labelFontWeight='bold', tickSize=10,
                                  tickWidth=1.5, domainWidth=1.5, labelPadding=3, labelLimit=600)),
    x2=alt.X2('x1'),
    y=PR.Y('z', axis=axis_left(856.5, [0, 10, 20, 30, 40, 50], labelFontSize=22, tickSize=10,
                               tickWidth=1.5, domainWidth=1.5, labelPadding=4)),
    y2=alt.Y2('v'), fill=alt.Fill('f:N', scale=None)))
gb = pd.DataFrame({'l': gr_br_left, 'r': gr_br_right, 'll': gr_br_left_low, 'top': gr_br_top,
                   'rl': gr_br_right_low, 's': gr_sig, 'sx': gr_sig_x, 'sy': gr_sig_y})
BR2 = dict(color='#7f7f7f', strokeWidth=1.3)
L.append(vr(PR, gb, 'l', 'll', 'top', **BR2))
L.append(vr(PR, gb, 'r', 'rl', 'top', **BR2))
L.append(hr(PR, gb, 'l', 'r', 'top', **BR2))
L.append(alt.Chart(gb[gb['s'] == 'ns']).mark_text(font=SANS, fontSize=22, baseline='middle').encode(
    x=PR.X('sx'), y=PR.Y('sy'), text='s:N'))
L.append(alt.Chart(gb[gb['s'] != 'ns']).mark_text(font=SANS, fontSize=28, fontWeight='bold',
                                                  baseline='middle', dy=8).encode(
    x=PR.X('sx'), y=PR.Y('sy'), text='s:N'))
L.append(prect([(886.5, 1515, 903.5, 1532)], fill='#ff9f9f', stroke='#333333', strokeWidth=1.5))
L.append(prect([(1072.5, 1515, 1089.5, 1532)], fill='#93c1f9', stroke='#333333', strokeWidth=1.5))
mixed(FLOX_TXT, 926.8, 1523.3, 24.5)
mixed(KO_TXT, 1111.6, 1523.3, 24.5)
L.append(ptext([(795.6, 1705, 'ECAR (mpH/min)')], 25.5, angle=270))

# ============================== mixed-style legend texts ==============================
for (size, it, color), rws in mixed_rows.items():
    L.append(ptext(rws, size, align='left', fontStyle='italic' if it else 'normal', color=color))

# ============================== panel letters ==============================
L.append(ptext([(19, 32, 'A')], 38))
L.append(ptext([(871, 33, 'B'), (25, 623, 'C'), (22, 1075, 'D'),
                (437, 1075, 'E'), (912, 1075, 'F'), (24, 1507, 'G')], 42))

chart = alt.layer(*L).resolve_scale(x='independent', y='independent').properties(
    width=W, height=H, autosize=alt.AutoSizeParams(type='none'), padding=0
).configure(font=SANS).configure_view(stroke=None)

chart.save("out.html", embed_options={"renderer": "svg", "actions": False})
